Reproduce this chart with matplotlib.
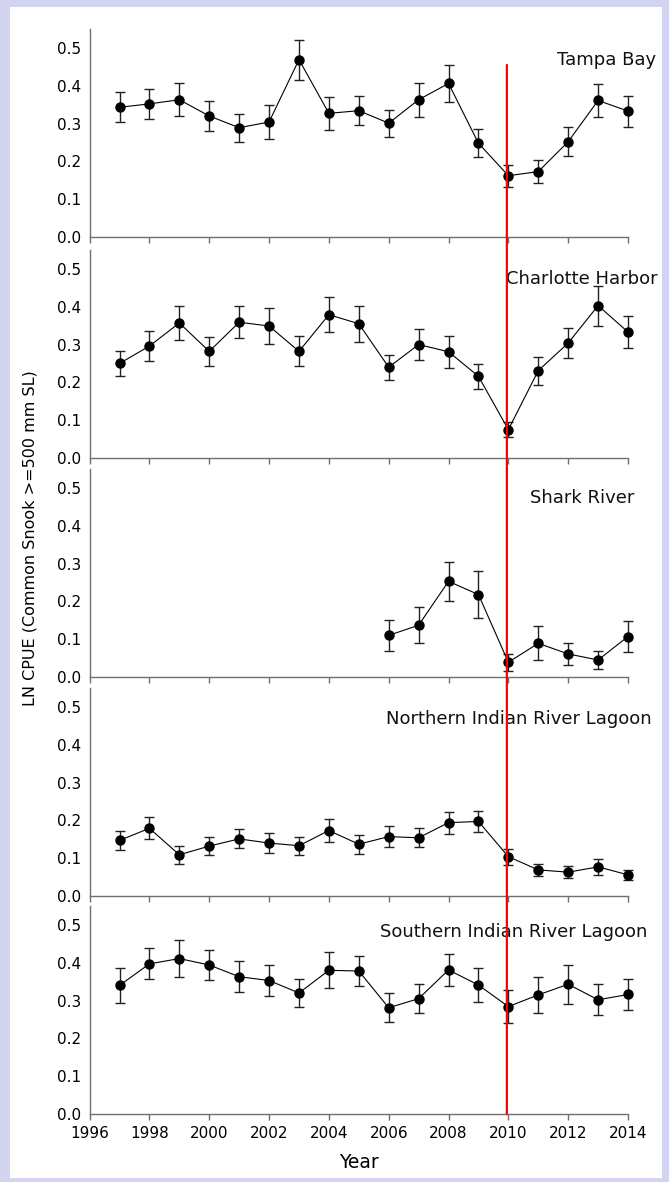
import numpy as np
import matplotlib
matplotlib.use("Agg")
import matplotlib.pyplot as plt
from matplotlib.patches import Rectangle, ConnectionPatch

# years sampled
years = list(range(1997, 2015))
shark_years = list(range(2006, 2015))

# LN CPUE means and error (half-width) per estuary
tampa = [0.343, 0.352, 0.363, 0.320, 0.289, 0.304, 0.469, 0.327, 0.334,
         0.301, 0.363, 0.406, 0.248, 0.162, 0.173, 0.252, 0.361, 0.333]
tampa_err = [0.040, 0.040, 0.043, 0.040, 0.037, 0.044, 0.053, 0.043, 0.039,
             0.036, 0.045, 0.049, 0.037, 0.029, 0.030, 0.038, 0.043, 0.041]

charlotte = [0.250, 0.296, 0.357, 0.282, 0.359, 0.349, 0.282, 0.379, 0.355,
             0.240, 0.300, 0.281, 0.216, 0.075, 0.231, 0.304, 0.403, 0.333]
charlotte_err = [0.034, 0.040, 0.046, 0.038, 0.042, 0.047, 0.040, 0.046, 0.047,
                 0.033, 0.042, 0.042, 0.033, 0.019, 0.037, 0.039, 0.053, 0.043]

shark = [0.110, 0.137, 0.253, 0.218, 0.039, 0.089, 0.061, 0.045, 0.107]
shark_err = [0.040, 0.048, 0.052, 0.063, 0.022, 0.045, 0.030, 0.025, 0.042]

nirl = [0.147, 0.179, 0.109, 0.132, 0.151, 0.140, 0.133, 0.173, 0.137,
        0.157, 0.154, 0.194, 0.197, 0.104, 0.069, 0.063, 0.077, 0.056]
nirl_err = [0.026, 0.029, 0.024, 0.024, 0.025, 0.026, 0.024, 0.030, 0.025,
            0.028, 0.025, 0.029, 0.029, 0.021, 0.015, 0.016, 0.022, 0.014]

sirl = [0.340, 0.397, 0.411, 0.394, 0.363, 0.353, 0.320, 0.380, 0.378,
        0.281, 0.305, 0.381, 0.341, 0.284, 0.315, 0.343, 0.302, 0.316]
sirl_err = [0.047, 0.041, 0.048, 0.040, 0.041, 0.040, 0.037, 0.048, 0.040,
            0.038, 0.038, 0.043, 0.045, 0.044, 0.047, 0.052, 0.041, 0.040]

panels = [
    ("Tampa Bay", years, tampa, tampa_err, 0.468),
    ("Charlotte Harbor", years, charlotte, charlotte_err, 0.474),
    ("Shark River", shark_years, shark, shark_err, 0.474),
    ("Northern Indian River Lagoon", years, nirl, nirl_err, 0.468),
    ("Southern Indian River Lagoon", years, sirl, sirl_err, 0.48),
]
label_right = [2014.95, 2015.0, 2014.2, 2014.8, 2014.65]

W, H = 669, 1182
fig = plt.figure(figsize=(W / 100, H / 100), dpi=100)
fig.patch.set_facecolor("#d3d5f0")
# white page area
fig.add_artist(Rectangle((10 / W, 1 - 1178 / H), 652 / W, 1171 / H,
                         transform=fig.transFigure, facecolor="white",
                         edgecolor="none", zorder=0))

bottoms_px = [237, 458, 677, 896, 1114]
left = 89.6 / W
width = 538.4 / W
height = 208 / H
spine_col = "#707070"

axes = []
for i, (name, xs, ys, es, ty) in enumerate(panels):
    ax = fig.add_axes([left, 1 - bottoms_px[i] / H, width, height])
    ax.patch.set_alpha(0)
    eb = ax.errorbar(xs, ys, yerr=es, fmt="o-", color="black", ms=6.5,
                     lw=0.8, ecolor="#222222", elinewidth=1, capsize=3.6,
                     capthick=1)
    # let the 2014 caps hang over the axis edge like the original
    for art in ax.get_children():
        art.set_clip_on(False)
    ax.set_xlim(1996, 2014)
    ax.set_ylim(0, 0.55)
    ax.set_xticks(range(1996, 2015, 2))
    ax.set_yticks([0.0, 0.1, 0.2, 0.3, 0.4, 0.5])
    ax.set_yticklabels(["0.0", "0.1", "0.2", "0.3", "0.4", "0.5"])
    for s in ["top", "right"]:
        ax.spines[s].set_visible(False)
    for s in ["left", "bottom"]:
        ax.spines[s].set_color(spine_col)
        ax.spines[s].set_linewidth(1)
    ax.tick_params(axis="x", direction="out", length=4, width=1,
                   color=spine_col, labelsize=11, pad=5)
    ax.tick_params(axis="y", length=0, labelsize=11, pad=6)
    if i < 4:
        ax.tick_params(axis="x", labelbottom=False)
    ax.text(label_right[i], ty, name, ha="right", va="center", fontsize=13,
            color="#111111", clip_on=False)
    axes.append(ax)

axes[-1].set_xlabel("Year", fontsize=13.5, labelpad=8)

fig.text(30 / W, 1 - 538 / H, "LN CPUE (Common Snook >=500 mm SL)",
         rotation=90, ha="center", va="center", fontsize=11.5)

# red reference line at 2010 across all panels
red = ConnectionPatch(xyA=(2009.95, 0.455), coordsA=axes[0].transData,
                      xyB=(2009.95, 0.0), coordsB=axes[-1].transData,
                      color="red", lw=1.6, zorder=10)
fig.add_artist(red)

plt.savefig("out.png", dpi=100, facecolor=fig.get_facecolor())
